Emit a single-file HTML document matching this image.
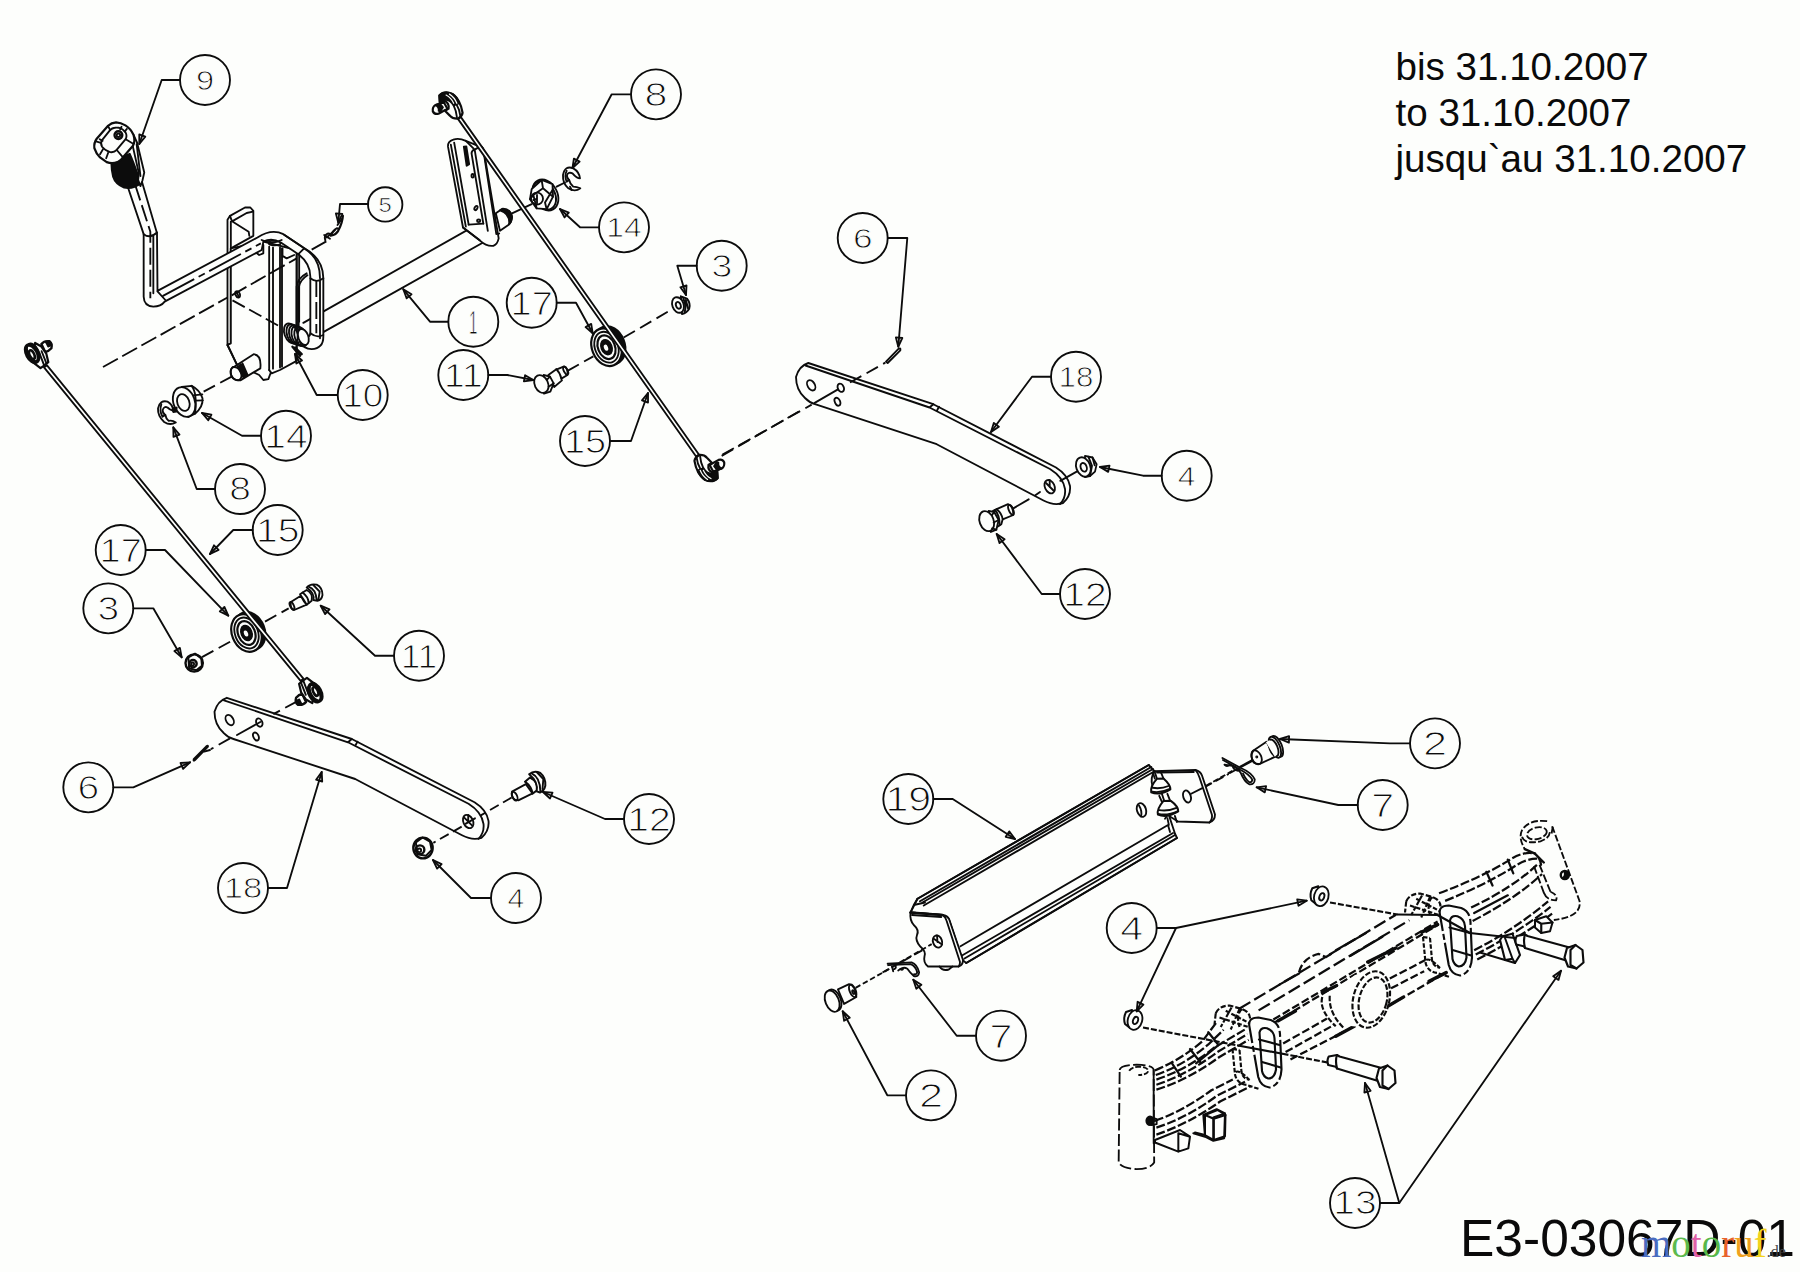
<!DOCTYPE html>
<html lang="de"><head><meta charset="utf-8"><title>E3-03067D-01</title>
<style>
html,body{margin:0;padding:0;background:#fdfefc;}
body{width:1800px;height:1272px;overflow:hidden;position:relative;font-family:"Liberation Sans",sans-serif;}
svg{position:absolute;left:0;top:0;display:block}
.ln *{vector-effect:non-scaling-stroke}
.ln{fill:none;stroke:#0c0c0c;stroke-width:1.85;stroke-linecap:round;stroke-linejoin:round}
.bn{opacity:.999;font-family:"Liberation Sans",sans-serif;text-anchor:middle;fill:#0c0c0c;stroke:#fdfefc;stroke-width:1.1px;paint-order:fill stroke;}
.f{fill:#0c0c0c}
.w{fill:#fdfefc}
.d{stroke-dasharray:14 5}
[style*="dasharray"]{stroke-linecap:butt}
.note{font-family:"Liberation Sans",sans-serif;font-size:38.6px;fill:#0a0a0a}
.code{font-family:"Liberation Sans",sans-serif;font-size:51.5px;fill:#0a0a0a}
.wm{font-family:"Liberation Serif",serif;font-size:39px}
</style></head><body>
<svg width="1800" height="1272" viewBox="0 0 1800 1272">
<rect width="1800" height="1272" fill="#fdfefc"/>
<g class="ln">
<!-- 00_defs.svg -->
<defs>
<!-- flat bar 18, in page coordinates of the upper instance -->
<g id="flatbar">
<path class="w" d="M808.3 363Q799 366 796 377Q796 390 805 398Q810 403 815 404.2L936.7 444.2L1043.5 500.5Q1054 506 1063 503Q1071 496 1070 486Q1068 475 1056 467.5L933.3 404.2Z"/>
<path d="M805.5 365.5L929.5 407.5L1050 469Q1063 477 1065 489Q1066 498 1060 504M929.5 407.5L933.3 404.2M937 410.5L939 406.8"/>
<ellipse cx="811.2" cy="385.3" rx="3.6" ry="5.6" transform="rotate(-30 811.2 385.3)"/>
<ellipse cx="840.8" cy="387.8" rx="3" ry="4.3" transform="rotate(-25 840.8 387.8)"/>
<ellipse cx="837.5" cy="401.7" rx="2.6" ry="4.2" transform="rotate(-25 837.5 401.7)"/>
<ellipse cx="1049.7" cy="486.7" rx="4.8" ry="7" transform="rotate(-25 1049.7 486.7)"/>
<path d="M1046 483L1053.5 490.5M1049.7 480L1049.7 487"/>
</g>
<!-- pulley 17 centred at 0,0 (page px) -->
<g id="pulley">
<ellipse cx="2.6" cy="-1.6" rx="14.6" ry="19.6" transform="rotate(-22 2.6 -1.6)" class="f"/>
<ellipse cx="-1" cy="0.5" rx="14.5" ry="19.5" transform="rotate(-22 -1 0.5)" class="w" style="stroke-width:2.2"/>
<ellipse cx="-1" cy="0.5" rx="11.5" ry="16" transform="rotate(-22 -1 0.5)"/>
<ellipse cx="-1" cy="0.5" rx="8.5" ry="12.3" transform="rotate(-22 -1 0.5)" style="stroke-width:2.2"/>
<ellipse cx="-1" cy="0.5" rx="5.2" ry="7.6" transform="rotate(-22 -1 0.5)" class="f"/>
<ellipse cx="-1.5" cy="1" rx="2" ry="3.2" transform="rotate(-22 -1.5 1)" class="w" style="stroke:none"/>
</g>
<!-- tie-rod end A (upper rod), drawn in F17 coords (425,80) k22.3, attach point (770,850) -->
<g id="reA">
<path class="w" d="M232 560L420 495L500 640L300 752Q215 775 175 700Q160 600 232 560Z" style="stroke-width:2.2"/>
<path class="f" d="M232 560L330 525L400 610L345 700L305 690Q320 600 232 560Z"/>
<path class="w" d="M320 345Q430 232 610 310Q790 440 838 730Q825 812 760 840L740 862Q620 872 560 800L450 690L525 640Q545 520 440 470Q380 460 330 500Z" style="stroke-width:2.2"/>
<path class="f" d="M320 345Q430 232 610 310Q720 380 760 520L700 540L640 570Q560 440 450 445Q380 450 330 500Z"/>
<path d="M640 570Q700 690 712 830M700 540Q775 660 790 810"/>
<path d="M470 335Q590 400 640 520M545 315Q660 390 710 520" style="stroke:#fdfefc;stroke-width:1.2"/>
</g>
<!-- tie-rod end B (left rod), drawn in F18 coords (10,325) k22.3, attach point (790,920) -->
<g id="reB">
<path class="w" d="M700 425Q760 350 880 362Q952 420 922 520Q860 592 785 602Z" style="stroke-width:2.4"/>
<path class="f" d="M790 370Q880 350 925 430Q900 470 850 480Q830 430 790 370Z"/>
<path class="w" d="M560 400L700 480L810 640L855 830L760 905L680 962L480 805Z" style="stroke-width:2.2"/>
<path d="M650 610L755 885M705 585L810 850"/>
<ellipse cx="490" cy="640" rx="118" ry="212" transform="rotate(-28 490 640)" class="w" style="stroke-width:3.4"/>
<ellipse cx="520" cy="610" rx="118" ry="212" transform="rotate(-28 520 610)" style="stroke-width:2"/>
<ellipse cx="488" cy="662" rx="52" ry="105" transform="rotate(-25 488 662)" style="stroke-width:2.6"/>
</g>
</defs>

<!-- 10_bracket.svg -->
<g transform="translate(130,200) scale(0.166667)">
<!-- long centre line through bracket to cotter pin 5 -->
<!-- back flange of channel -->
<path class="w" d="M585 118L600 95L690 45L722 45L740 65L740 215L605 290L605 860L585 870Z"/>
<path d="M605 130L605 860M600 95L612 128L712 190L716 215M612 128L700 78L738 70"/>
<!-- web / body -->
<path class="w" d="M605 290L800 250L1000 300L1000 965L900 1020L850 1040L835 1020L845 1035L830 1075L800 1080L775 1050L640 985L585 870L605 860Z"/>
<path d="M585 870L640 985"/>
<!-- long centre line -->
<path class="d" d="M-162 1002L585 585M610 572L1000 350M1090 298L1178 248" style="stroke-dasharray:17 5"/>
<!-- small hole + hidden line -->
<ellipse cx="646" cy="566" rx="13" ry="20" transform="rotate(-25 646 566)"/>
<path d="M640 555L652 578"/>
<path class="d" d="M615 602L905 762" style="stroke-dasharray:14 5"/>
<!-- pivot tube verticals -->
<path d="M835 280L835 1020M858 285L858 1012M900 285L900 1005M912 290L912 1000"/>
<ellipse cx="868" cy="258" rx="36" ry="14"/>
<!-- hooks at top -->
<path d="M750 310L775 330L800 320L800 270M915 335L940 350L985 330M915 290L915 340M1000 330L1000 965"/>
<!-- pin cylinder -->
<path class="w" d="M625 1000L742 925Q790 930 782 1010L662 1082Q600 1085 605 1025Q610 1000 625 1000Z"/>
<ellipse cx="636" cy="1042" rx="30" ry="42" transform="rotate(-28 636 1042)"/>
<path d="M655 990L690 1062M665 985L698 1056M675 980L706 1050M645 996L682 1068"/>
</g>

<!-- 12_rod.svg -->
<g transform="translate(130,200) scale(0.166667)">
<!-- shaft (part 1) running to upper right, drawn first so U-rod covers its start -->
<path class="w" d="M1042 736L1190 652L2190 86L2215 166L2215 201L1162 790Z" style="stroke:none"/>
<path d="M1040 737L2190 86M1165 790L2215 201"/>
<!-- handle rod: angled top, vertical, bottom bend, long horizontal, U bend -->
<path class="w" d="M-12 -75L82 205L82 580Q84 636 140 640Q185 640 208 610L790 300Q800 252 800 250Q850 225 905 255L1010 325Q1082 380 1082 460L1082 800Q1080 828 1040 825L1025 850Q1040 895 1090 895Q1160 890 1160 820L1160 470Q1160 350 1040 285L920 205Q850 170 765 225L165 545L162 200L70 -115Z"/>
<path d="M82 205Q120 235 162 195M140 215L140 560M165 548L212 600"/>
<path class="d" d="M30 -95L122 190L122 590" style="stroke-dasharray:17 5"/>
<path class="d" d="M195 577L785 260" style="stroke-dasharray:36 5 7 5"/>
<path d="M1082 470Q1120 500 1160 470M1140 480L1140 830M1082 800Q1120 830 1160 810" />
<path class="d" d="M1118 480L1118 800" style="stroke-dasharray:17 5"/>
<path d="M790 240Q850 270 910 240M925 208L1045 290Q1140 345 1140 470M1010 325L1045 290"/>
<!-- wire from spring -->
<path d="M1000 760L1000 520Q1005 470 1060 440M1012 760L1012 525Q1020 480 1065 452"/>
<path d="M1015 330L1015 730"/>
<!-- spring 10 -->
<g>
<ellipse cx="965" cy="800" rx="38" ry="62" transform="rotate(-20 965 800)" class="w"/>
<ellipse cx="980" cy="805" rx="38" ry="62" transform="rotate(-20 980 805)"/>
<ellipse cx="995" cy="810" rx="38" ry="62" transform="rotate(-20 995 810)"/>
<ellipse cx="1010" cy="815" rx="38" ry="62" transform="rotate(-20 1010 815)"/>
<ellipse cx="1025" cy="820" rx="36" ry="60" transform="rotate(-20 1025 820)"/>
<ellipse cx="1040" cy="822" rx="30" ry="50" transform="rotate(-20 1040 822)" class="w"/>
<path d="M975 880L1020 935M990 885L1030 925" style="stroke-width:2.4"/>
</g>
</g>

<!-- 14_knob.svg -->
<!-- knob 9, F20 frame: (80,100) k14.97 -->
<g transform="translate(80,100) scale(0.0668)">
<!-- black boot under knob -->
<path class="f" d="M470 950L650 845L745 805Q790 900 860 1100L905 1250Q800 1335 660 1312Q530 1262 495 1150Q470 1050 470 950Z"/>
<!-- flattened rod end -->
<path class="w" d="M790 690L800 520L855 640L962 1085L935 1205L905 1290L870 1195L882 1100Z"/>
<path d="M848 660L905 1140"/>
<!-- knob -->
<path class="w" d="M540 335Q470 340 420 385L250 580Q205 640 215 720Q240 800 300 860L400 930Q480 962 560 930Q620 900 650 850L790 690Q832 620 800 520Q760 430 680 380Q610 340 540 335Z" style="stroke-width:2.2"/>
<path d="M520 415Q480 420 450 450L330 600Q300 650 330 700Q380 762 450 780Q510 790 545 750L680 590Q712 540 680 480Q640 430 580 415Q550 410 520 415Z"/>
<path d="M240 620L312 642M300 812L345 735M392 872L422 790M640 855L560 760M790 652L690 592M702 432L668 472M622 400L602 440M418 388L452 448M295 588L338 612"/>
<circle cx="575" cy="525" r="58" style="stroke-width:2.4"/><circle cx="575" cy="528" r="26"/>
</g>

<!-- 16_arm.svg -->
<g transform="translate(400,80) scale(0.166667)">
<!-- shaft end stub behind plate -->
<path class="w" d="M575 800L610 775Q660 770 672 820Q672 850 650 870L600 905Z"/>
<path class="f" d="M600 782L618 772Q665 775 672 825Q670 850 655 865Q660 800 600 782Z"/>
<!-- arm plate -->
<path class="w" d="M288 400Q285 368 320 358Q352 345 395 365L480 400Q495 395 502 420L592 950Q585 985 560 995Q520 1000 478 962L378 885Z"/>
<path d="M305 388L395 880M325 376L412 868M430 445L500 862M448 418L527 905M502 432L578 925M395 365L445 415Q425 430 430 445M480 400L448 418"/>
<path class="f" d="M383 400L398 398L415 505L400 515Z"/>
<ellipse cx="436" cy="575" rx="7" ry="11"/><ellipse cx="456" cy="768" rx="8" ry="14" transform="rotate(30 456 768)"/><ellipse cx="472" cy="845" rx="10" ry="8"/>
<path d="M378 885L478 962M412 868L500 862"/>
<!-- axis line to nut -->
<path d="M672 800L790 745M940 640L990 615"/>
<!-- nut 14 -->
<g>
<ellipse cx="872" cy="690" rx="72" ry="98" transform="rotate(-28 872 690)" class="w"/>
<ellipse cx="866" cy="692" rx="64" ry="90" transform="rotate(-28 866 692)"/>
<path class="w" d="M790 655L850 600L915 625L918 700L880 775L820 770L780 715Z"/>
<path d="M850 600L858 650L918 700M858 650L800 690L820 770M800 690L780 715M880 775L870 735L915 660"/>
<circle cx="822" cy="712" r="36"/>
<path d="M800 720L815 715M822 690L822 740"/>
</g>
<!-- e-clip 8 -->
<path d="M1040 530Q990 510 978 570Q975 620 1010 650Q1050 675 1082 650Q1060 640 1040 640Q1020 625 1015 600Q1000 590 1002 570Q1010 550 1035 560Q1060 590 1080 590Q1075 550 1040 530Z"/>
<path d="M1000 545Q985 575 1000 610L1015 600M1020 640L1030 660"/>
</g>

<!-- 20_tierods.svg -->
<!-- pulleys -->
<g transform="translate(607.5,346.7)"><use href="#pulley"/></g>
<g transform="translate(247.5,632.5)"><use href="#pulley"/></g>
<!-- upper tie rod 15 -->
<path class="w" d="M458.1 119.1L696.1 456.5L698.9 454.5L460.9 117.1Z"/>
<!-- left tie rod 15 -->
<path class="w" d="M44.0 367.4L300.6 680.9L303.4 678.7L46.8 365.2Z"/>
<!-- rod ends -->
<g transform="translate(425,80) scale(0.044843)"><use href="#reA"/></g>
<g transform="translate(697.5,455.5) rotate(180) scale(0.044843) translate(-770,-850)"><use href="#reA"/></g>
<g transform="translate(10,325) scale(0.044843)"><use href="#reB"/></g>
<g transform="translate(302,679.8) rotate(180) scale(0.044843) translate(-790,-920)"><use href="#reB"/></g>
<!-- flat bars -->
<use href="#flatbar"/>
<use href="#flatbar" transform="translate(-581.5,334.8)"/>

<!-- 30_small_top.svg -->
<!-- F5 frame: (500,260) k6 : bolt 11, spacer 3, axes -->
<g transform="translate(500,260) scale(0.166667)">
<path class="d" d="M405 665L560 578M742 465L1025 300" style="stroke-dasharray:13 6"/>
<path class="d" d="M1330 1175L1800 905" style="stroke-dasharray:13 6"/>
<!-- bolt 11 -->
<path class="w" d="M290 690L338 655L345 655L385 638Q408 645 405 690L368 712L372 722L325 762Z"/>
<path d="M338 655Q362 680 368 712"/>
<ellipse cx="394" cy="664" rx="11" ry="26" transform="rotate(-28 394 664)"/>
<path class="w" d="M262 690L300 700L322 740L302 790L264 802Z"/>
<ellipse cx="248" cy="744" rx="40" ry="56" transform="rotate(-25 248 744)" class="w"/>
<path d="M300 700L285 715M322 740L292 760"/>
<!-- spacer 3 -->
<path class="w" d="M1085 218L1122 232Q1145 262 1135 292Q1120 318 1092 324Z" style="stroke-width:2"/>
<path d="M1100 232Q1120 270 1108 312M1115 240L1128 290" style="stroke-width:2"/>
<ellipse cx="1068" cy="270" rx="34" ry="48" transform="rotate(-20 1068 270)" class="w"/>
<ellipse cx="1070" cy="272" rx="14" ry="21" transform="rotate(-20 1070 272)"/>
</g>
<!-- F6 frame: (680,320) k6 : axis through flat bar, pin 6 -->
<g transform="translate(680,320) scale(0.166667)">
<path class="d" d="M255 808L790 508" style="stroke-dasharray:13 6"/>
<path d="M808 497L948 416"/>
<path class="d" d="M1020 375L1232 256" style="stroke-dasharray:13 6"/>
<path d="M1236 250L1312 172Q1325 165 1322 182L1246 258Z"/>
</g>
<!-- F7 frame: (940,400) k6 : nut 4, bolt 12 -->
<g transform="translate(940,400) scale(0.166667)">
<path d="M722 485L820 430M600 552L572 572M532 596L440 650"/>
<!-- nut 4 -->
<path class="w" d="M870 335L915 345L940 385L930 430L900 456L870 462Z" style="stroke-width:1.8"/>
<path d="M890 340L912 395L900 456M915 345L928 392" />
<ellipse cx="860" cy="402" rx="42" ry="60" transform="rotate(-20 860 402)" class="w"/>
<ellipse cx="862" cy="404" rx="18" ry="27" transform="rotate(-20 862 404)"/>
<!-- bolt 12 -->
<path class="w" d="M340 655L408 625Q440 635 440 690L376 716Z"/>
<ellipse cx="426" cy="659" rx="13" ry="32" transform="rotate(-22 426 659)"/>
<path class="w" d="M318 665L340 655Q372 680 376 716L368 745L345 760Z"/>
<path d="M330 660Q358 690 358 752"/>
<path class="w" d="M292 665L325 672L352 720L338 778L305 792Z"/>
<ellipse cx="280" cy="727" rx="42" ry="62" transform="rotate(-20 280 727)" class="w"/>
<path d="M325 672L312 690M352 720L322 735M338 778L312 770"/>
</g>
<!-- F3 frame: (280,180) k6 : cotter pin 5, shaft stub -->
<g transform="translate(280,180) scale(0.166667)">
<path d="M272 362Q262 335 285 322Q300 318 305 335Q318 300 340 290Q355 290 350 305Q338 330 305 335Q330 330 352 300Q375 255 378 215" style="stroke-width:2"/>
<path d="M265 330L300 352M280 345L330 300M345 270L372 232"/>
</g>

<!-- 32_small_left.svg -->
<!-- F8 frame: (0,320) k6 : nut 14, e-clip 8 -->
<g transform="translate(0,320) scale(0.166667)">
<path class="d" d="M1390 340L1222 430" style="stroke-dasharray:13 6"/>
<path d="M1132 478L1040 530"/>
<!-- nut/bushing 14 -->
<path class="w" d="M1090 402L1150 395Q1200 420 1215 470Q1220 520 1170 562L1130 582Z"/>
<path d="M1150 395Q1185 440 1170 562M1160 452L1214 446M1172 484L1217 482"/>
<ellipse cx="1105" cy="492" rx="64" ry="92" transform="rotate(-20 1105 492)" class="w"/>
<ellipse cx="1100" cy="495" rx="36" ry="52" transform="rotate(-20 1100 495)"/>
<path class="f" d="M1035 535L1060 525L1058 550L1040 552Z"/>
<!-- e-clip 8 -->
<path d="M1005 490Q960 478 948 530Q945 575 985 612Q1020 635 1055 615Q1035 600 1012 605Q995 590 992 570Q975 560 976 540Q985 515 1005 525Q1020 540 1040 545Q1035 505 1005 490Z"/>
<path d="M968 505Q955 545 975 580L992 570"/>
</g>
<!-- F9 frame: (140,560) k6 : nut 3, bolt 11, axes, pin 6 -->
<g transform="translate(140,560) scale(0.166667)">
<path class="d" d="M372 583L560 480M750 370L892 290" style="stroke-dasharray:13 6"/>
<path class="d" d="M940 850L800 925M540 1070L425 1135" style="stroke-dasharray:13 6"/>
<path d="M722 972L582 1050"/>
<!-- nut 3 -->
<ellipse cx="325" cy="618" rx="52" ry="52" class="w" style="stroke-width:2.4"/>
<path d="M290 585L330 562L368 590L372 635L338 662L295 650Z" style="stroke-width:2"/>
<circle cx="318" cy="622" r="22" style="stroke-width:2.4"/>
<circle cx="316" cy="624" r="9"/>
<!-- bolt 11 (head upper right) -->
<path class="w" d="M905 252L965 215L985 250L1000 268L925 300Q900 295 905 252Z"/>
<ellipse cx="912" cy="275" rx="11" ry="25" transform="rotate(-25 912 275)"/>
<path class="w" d="M960 205L1000 180Q1040 200 1030 245L1000 268Q985 240 960 205Z"/>
<path d="M975 195Q1010 220 1012 258"/>
<path class="w" d="M1000 165Q1020 140 1060 148Q1095 165 1095 210Q1090 240 1065 245L1040 240Q1050 200 1000 165Z"/>
<path d="M1012 160Q1055 175 1060 240M1040 150L1078 190L1070 240"/>
<!-- pin 6 -->
<path d="M408 1120L330 1200Q318 1210 322 1195L398 1118Q410 1108 408 1120Z"/>
<path d="M385 1150L420 1140"/>
</g>
<!-- F10 frame: (330,720) k6 : nut 4, bolt 12 -->
<g transform="translate(330,720) scale(0.166667)">
<path class="d" d="M1090 465L905 572" style="stroke-dasharray:10 5"/>
<path d="M870 590L815 622"/>
<path class="d" d="M790 640L620 737" style="stroke-dasharray:10 5"/>
<!-- nut 4 -->
<ellipse cx="558" cy="768" rx="58" ry="62" class="w" style="stroke-width:2.4"/>
<path d="M515 735L555 705L600 730L610 780L575 815L525 805Z" style="stroke-width:2"/>
<circle cx="540" cy="778" r="26" style="stroke-width:2.4"/>
<circle cx="536" cy="782" r="11"/>
<!-- bolt 12 -->
<path class="w" d="M1092 430L1175 385L1215 440L1130 482Q1085 480 1092 430Z"/>
<ellipse cx="1108" cy="457" rx="14" ry="28" transform="rotate(-25 1108 457)"/>
<path class="w" d="M1170 370L1200 345Q1250 370 1245 420L1215 442Q1210 400 1170 370Z" style="stroke-width:2"/>
<path class="w" d="M1195 325Q1225 300 1262 318Q1295 345 1292 395Q1285 425 1260 435L1240 428Q1250 370 1195 325Z" style="stroke-width:2"/>
<path d="M1210 320Q1262 345 1262 428M1240 312L1280 355L1275 415"/>
</g>

<!-- 40_frame.svg -->
<!-- beam rails, F19 frame: (1080,800) k3.2727 -->
<g transform="translate(1080,800) scale(0.305556)" style="stroke-width:2.25">
<g style="stroke-dasharray:9 2.6">
<!-- upper flange: left & right outer sections -->
<path d="M245 885Q330 850 400 790L445 730M1175 305Q1310 255 1400 200Q1450 165 1492 176"/>
<path d="M1195 330Q1320 280 1410 225Q1460 190 1498 192"/>
<path d="M250 915Q350 882 440 810L545 748M1280 352Q1420 285 1500 208"/>
<path d="M250 948Q355 915 455 842L552 785M1285 396Q1430 320 1512 242"/>
<path d="M248 900Q340 868 420 800L470 752M250 932Q352 898 448 826L548 766"/>
<!-- lower flange: left & right outer sections -->
<path d="M245 1050Q330 1022 430 950L500 915M1290 492Q1420 425 1532 332"/>
<path d="M250 1095Q350 1062 460 986L560 936M1300 522Q1440 450 1545 372"/>
<path d="M250 1072Q350 1040 448 968L540 922M1295 506Q1430 436 1540 350"/>
</g>
<!-- mid section (between links), long dashes -->
<g style="stroke-dasharray:13 4.5">
<path d="M521 683.4L1034 375.5"/>
<path d="M584.5 688.5L1078 393.5"/>
</g>
<g style="stroke-dasharray:8 3">
<path d="M632.7 718.6L1170.4 397.5M636 728.6L1173.6 407.5"/>
<path d="M664.8 796.9L813.3 712.6M1013.9 584.2L1130.3 524"/>
<path d="M672.8 825L837.3 732.7M1017.9 616.3L1126.3 560.1"/>
<path d="M688.8 849L897.5 740.7M1009.9 673.3L1198.5 564.9"/>
<path d="M716.9 564.1Q729 515.9 781.2 503.9L805.2 513.9"/>
</g>
<path d="M805.2 513.9L821.3 503.9M652.7 604.2L716.9 568.1M837.3 491.8L935.7 435.7M885.5 509.9L989.8 447.7"/>
<path d="M648.7 722.6L704.9 690.5M793.2 630.3L839.3 608.2M941.7 530L1034 484.6M1118.3 432.5L1170.4 407.6M837.3 772.8L897.5 740.7M1009.9 673.3L1058.1 645.2M1142.4 593L1198.5 564.9" style="stroke-width:3.4"/>
<path d="M380 862L450 805M1290 370L1400 312"/>
<path d="M300 860L330 905M360 815L395 860M420 760L452 800M1330 235L1350 280M1400 195L1418 240"/>
</g>
<!-- axle frame (phantom), F13 frame: (1180,840) k4 -->
<g transform="translate(1180,840) scale(0.25)" style="stroke-width:2.15">
<defs>
<g id="link">
<path class="w" d="M1040 300Q1032 262 1075 262L1125 272Q1160 285 1162 330L1168 470Q1165 532 1120 542Q1085 538 1075 500Z" style="stroke-dasharray:40 3 6 3"/>
<path d="M1080 322Q1085 300 1110 305Q1138 315 1140 345L1146 470Q1140 506 1115 506Q1095 500 1090 476Z"/>
<path d="M905 245Q920 214 960 214L1010 228Q1042 240 1042 266M905 245L900 290M1010 228Q985 250 1000 300" style="stroke-dasharray:5.5 2"/>
<path d="M972 388L982 490Q990 528 1030 532L1078 548M1000 392L1008 480Q1012 505 1040 512M972 388L1000 392M985 480Q1000 470 1040 512" style="stroke-dasharray:4.5 1.8"/>
<path d="M920 262L1035 300M945 235L1040 285M968 222L925 300M1000 228L965 310" style="stroke-dasharray:4.5 1.8"/>
<path d="M1078 350L1160 372M1090 440L1165 462"/>
</g>
</defs>
<!-- beam rails are drawn in F19 frame below -->
<!-- centre boss -->
<g style="stroke-dasharray:5.5 2">

<path class="w" d="M600 610Q565 640 580 700Q600 750 650 740L735 750L790 520L700 540Z" style="stroke:none"/>
<path d="M569 628Q555 681 623 745M599 623Q594 691 653 750"/>
<ellipse cx="765" cy="638" rx="72" ry="115" transform="rotate(14 765 638)" class="w"/>
<ellipse cx="772" cy="640" rx="55" ry="92" transform="rotate(14 772 640)"/>
</g>

<use href="#link"/>
<use href="#link" transform="translate(-762,448)"/>
<!-- feet -->
<path class="w" d="M1290 385L1330 375L1360 460L1340 492L1300 480L1280 400Z"/>
<path d="M1300 392L1330 475L1340 492M1330 475L1300 480M1200 450L1300 480" style="stroke-width:2"/>
<path class="w" d="M1420 320L1465 305L1490 330L1480 365L1445 372L1420 350Z" style="stroke-width:2"/>
<path d="M1445 335L1445 372M1445 335L1490 330M1420 320L1445 335"/>
<path class="w" d="M100 1100L150 1080L182 1100L180 1185L135 1200L100 1180Z" style="stroke-width:2"/>
<path d="M135 1115L135 1200M135 1115L182 1100M100 1100L135 1115M60 1170L100 1180"/>

<!-- bolts 13 -->
<g id="bolt13">
<path class="w" d="M1347 384L1380 378L1390 384L1558 430L1545 482L1380 432L1375 425L1345 418Q1338 400 1347 384Z"/>
<path d="M1380 378Q1372 400 1380 432"/>
<path class="w" d="M1548 432L1582 420L1610 440L1614 490L1586 514L1552 506L1538 470Z"/>
<path d="M1582 420L1562 440L1562 500L1586 514"/>
</g>
<use href="#bolt13" transform="translate(-752,482)"/>
<!-- axis lines from nuts / bolts -->
<path d="M600 250L870 298" style="stroke-dasharray:6 2"/>
<path d="M870 298L1030 300L1160 372M1160 372L1340 392"/>
<path d="M-148 750L232 822" style="stroke-dasharray:6 2"/><path d="M232 822L410 855"/><path d="M410 855L590 890" style="stroke-dasharray:6 2"/>
</g>
<!-- left spindle tube & extras, F12 frame: (1100,960) k6 -->
<g transform="translate(1100,960) scale(0.166667)">
<path class="w" d="M118 660Q120 630 220 628Q320 632 322 660L325 1215Q300 1255 220 1255Q130 1250 112 1215Z" style="stroke-dasharray:12 3.5"/>
<path d="M175 665Q190 640 240 640Q290 645 290 668Q280 690 230 690" style="stroke-dasharray:5.5 2"/>
<path d="M322 660L322 1100" />
<ellipse cx="300" cy="965" rx="22" ry="26" class="f"/>
<path d="M310 945L340 955L340 985L310 990"/>

<path d="M330 1080L480 1020L540 1060L530 1130L470 1150L330 1095ZM470 1040L470 1150M470 1040L540 1060M620 930L700 895L750 920L745 1070L680 1085L630 1060ZM680 945L680 1085M680 945L750 920M560 1040L630 1060" style="stroke-width:2"/>
</g>

<!-- right spindle tube, F16 frame: (1440,800) k8.96 -->
<g transform="translate(1440,800) scale(0.111607)">
<g style="stroke-dasharray:7 2.2">
<path d="M960 190Q800 170 735 270Q700 340 760 440"/>
<path d="M735 330Q760 400 900 370Q990 340 985 270"/>
<ellipse cx="868" cy="298" rx="90" ry="52" transform="rotate(-14 868 298)"/>
<path d="M1005 235L1250 905Q1275 1045 1020 1075"/>
<path d="M1000 300L1010 240"/>
</g>
<path d="M842 592L930 830M892 582L990 822M930 830Q955 898 1040 900Q1060 850 990 822" style="stroke-dasharray:8 2.5"/>
<circle cx="1118" cy="672" r="36" style="stroke-width:2.4"/>
<path class="f" d="M1118 640Q1160 650 1150 690Q1130 712 1105 700Q1125 670 1118 640Z"/>
<path d="M760 440L850 480L930 560M850 480Q900 520 905 580" style="stroke-width:2.4"/>
</g>

<!-- 42_nuts4.svg -->
<g id="nut4s">
<g transform="translate(1321.3,896.3)">
<path class="w" d="M-3 -10L-9 -8Q-12 -2 -10 4L-5 8Z" style="stroke-width:2"/>
<ellipse cx="0" cy="0" rx="7.2" ry="10" transform="rotate(15)" class="w"/>
<ellipse cx="0.5" cy="0.5" rx="2.4" ry="3.8" transform="rotate(20 0.5 0.5)"/>
</g>
<g transform="translate(1135,1020)">
<path class="w" d="M-3 -10L-9 -8Q-12 -2 -10 4L-5 8Z" style="stroke-width:2"/>
<ellipse cx="0" cy="0" rx="7.2" ry="10" transform="rotate(15)" class="w"/>
<ellipse cx="0.5" cy="0.5" rx="2.4" ry="3.8" transform="rotate(20 0.5 0.5)"/>
</g>
</g>

<!-- 50_part19.svg -->
<!-- part 19 angle bar, F11 frame: (880,740) k4 -->
<g transform="translate(880,740) scale(0.25)">
<!-- axis lines -->
<path class="d" d="M1250 214L1395 136" style="stroke-dasharray:9 4"/>
<path d="M1400 132L1500 78"/>
<path class="d" d="M214 816L10 930" style="stroke-dasharray:9 4"/>
<!-- far end plate -->
<path class="w" d="M1095 125L1262 120Q1282 125 1288 142L1340 298Q1340 322 1318 330L1192 326L1150 300Z"/>
<path d="M1262 120Q1272 132 1278 150L1328 300Q1330 318 1318 330M1108 130L1255 128"/>
<ellipse cx="1228" cy="226" rx="15" ry="25" transform="rotate(-18 1228 226)"/>
<!-- main web -->
<path class="w" d="M150 635L1075 100L1098 125L1180 375L1188 392L345 892L330 880L275 715L250 700L122 690Z"/>
<!-- top flange lines -->
<path d="M150 635L1075 100M1085 108L160 645" style="stroke-width:2"/>
<path d="M175 662L1098 125M170 650L1092 116"/>
<!-- bottom flange lines -->
<path d="M322 825L1152 340L1160 368"/>
<path d="M328 862L1172 372M338 874L1180 380" />
<path d="M345 892L1188 392" style="stroke-width:2"/>

<!-- far end: rivets & hole -->
<path d="M1098 125Q1080 150 1090 185M1150 300L1140 315"/>
<ellipse cx="1046" cy="280" rx="18" ry="28" transform="rotate(-18 1046 280)"/>
<path d="M1036 262Q1050 285 1044 306"/>
<!-- near end plate -->
<path class="w" d="M122 690L250 700Q270 702 277 718L332 880Q332 900 315 906L192 906Q172 890 178 865Q185 845 160 825Q140 800 148 780Q158 760 135 740Q118 720 122 690Z"/>
<path d="M250 700Q262 708 266 722L320 888Q320 900 315 906M122 690L135 660L150 635M135 660L180 650M128 700L245 708" />
<path d="M122 690L250 700" style="stroke-width:2.4"/>
<ellipse cx="230" cy="806" rx="18" ry="25" transform="rotate(-18 230 806)"/>
<path d="M215 795L248 818M228 782L230 808"/>
<path d="M238 906Q250 925 275 918L290 906"/>
</g>

<!-- rivets on far end of 19, F23 frame: (1130,740) k8.96 -->
<g transform="translate(1130,740) scale(0.111607)">
<path d="M205 292L222 345M278 292L300 345M262 500L285 552M335 482L360 545M335 700L348 760M402 680L420 735"/>
<path class="w" d="M240 348Q178 420 190 468Q262 502 362 442Q362 400 300 345Z" style="stroke-width:2"/>
<path d="M203 428Q272 442 352 410M195 462Q270 478 358 438"/>
<path class="w" d="M300 546Q238 620 250 668Q330 702 432 640Q432 592 366 545Z" style="stroke-width:2"/>
<path d="M262 628Q338 642 424 606M255 662Q335 680 430 636"/>
</g>

<!-- 52_pins.svg -->
<!-- pin 2 + clip 7 lower-left, F14 frame: (800,920) k8.96 -->
<g transform="translate(800,920) scale(0.111607)">
<path class="d" d="M498 608L832 420M892 382L1180 216" style="stroke-dasharray:5.5 2.8"/>
<!-- pin 2 -->
<path class="w" d="M340 622L440 575Q500 590 505 690L395 752Z"/>
<ellipse cx="472" cy="634" rx="27" ry="60" transform="rotate(-22 472 634)"/>
<ellipse cx="478" cy="646" rx="9" ry="18" transform="rotate(-22 478 646)"/>
<ellipse cx="305" cy="718" rx="60" ry="100" transform="rotate(-22 305 718)" class="w"/>
<ellipse cx="288" cy="727" rx="60" ry="100" transform="rotate(-22 288 727)" class="w"/>
<!-- clip 7 -->
<path d="M785 392L1000 380Q1050 398 1068 470Q1062 512 1020 502Q985 470 962 436Q930 418 898 440L880 452" style="stroke-width:1.8"/>
<path d="M790 405L990 395Q1035 410 1050 468Q1045 492 1022 486M820 400L835 460M850 398Q870 430 845 440M900 440Q915 455 925 435"/>
</g>
<!-- pin 2 + clip 7 upper-right, F15 frame: (1180,710) k8.96 -->
<g transform="translate(1180,710) scale(0.111607)">
<path d="M655 445L540 506M200 700L100 750"/>
<path class="d" d="M470 545L230 682" style="stroke-dasharray:5.5 2.8"/>
<!-- pin 2 -->
<path class="w" d="M775 285L655 365Q625 420 660 470Q690 490 720 480L850 420Z"/>
<ellipse cx="686" cy="424" rx="42" ry="66" transform="rotate(-25 686 424)"/>
<circle cx="688" cy="422" r="5" class="f"/>
<ellipse cx="868" cy="326" rx="45" ry="100" transform="rotate(-22 868 326)" class="w"/>
<ellipse cx="850" cy="334" rx="45" ry="100" transform="rotate(-22 850 334)" class="w"/>
<ellipse cx="838" cy="340" rx="36" ry="80" transform="rotate(-22 838 340)" class="w"/>
<path class="w" d="M770 290L800 270Q850 300 860 410L850 420Z" style="stroke:none"/>
<!-- clip 7 -->
<path d="M380 430L545 520Q640 560 670 622Q668 672 620 666Q575 640 545 565Q520 520 470 500L400 490" style="stroke-width:1.8"/>
<path d="M385 448L540 535Q620 575 648 625Q645 650 622 648Q590 625 565 570M400 490Q415 510 440 495M470 500Q480 540 520 545"/>
</g>

</g>
<g class="ln" id="balloons">
<circle cx="205.0" cy="80.0" r="25.0"/>
<path d="M180.0 80.0L161.7 80.0L139.3 144.0"/>
<path d="M139.3 144.0L139.3 134.4L145.3 136.6Z"/>
<text class="bn" x="205.0" y="89.9" font-size="27.6" textLength="18.1" lengthAdjust="spacingAndGlyphs" style="stroke-width:0.91px">9</text>
<circle cx="385.2" cy="204.4" r="17.2"/>
<path d="M368.3 204.0L340.0 204.0L338.3 222.7"/>
<path d="M338.3 222.7L335.9 213.4L342.3 214.0Z"/>
<text class="bn" x="385.2" y="212.0" font-size="20.0" textLength="13.3" lengthAdjust="spacingAndGlyphs" style="stroke-width:0.66px">5</text>
<circle cx="473.3" cy="321.7" r="25.0"/>
<path d="M448.3 321.7L430.0 321.7L403.3 289.3"/>
<path d="M403.3 289.3L411.5 294.2L406.6 298.3Z"/>
<text class="bn" x="473.3" y="333.6" font-size="34.1" textLength="8.4" lengthAdjust="spacingAndGlyphs" style="stroke-width:1.05px">1</text>
<circle cx="531.7" cy="302.7" r="25.0"/>
<path d="M556.7 302.7L576.0 302.7L592.7 333.3"/>
<path d="M592.7 333.3L585.6 327.0L591.2 323.9Z"/>
<text class="bn" x="531.7" y="314.6" font-size="34.1" textLength="42.2" lengthAdjust="spacingAndGlyphs" style="stroke-width:1.05px">17</text>
<circle cx="463.3" cy="375.0" r="25.0"/>
<path d="M488.3 375.0L507.3 375.0L533.3 380.0"/>
<path d="M533.3 380.0L523.9 381.4L525.1 375.2Z"/>
<text class="bn" x="463.3" y="386.9" font-size="34.1" textLength="38.6" lengthAdjust="spacingAndGlyphs" style="stroke-width:1.05px">11</text>
<circle cx="362.7" cy="395.0" r="25.0"/>
<path d="M337.3 395.0L316.7 395.0L295.0 354.0"/>
<path d="M295.0 354.0L302.0 360.5L296.4 363.5Z"/>
<text class="bn" x="362.7" y="406.9" font-size="34.1" textLength="41.0" lengthAdjust="spacingAndGlyphs" style="stroke-width:1.05px">10</text>
<circle cx="656.0" cy="94.3" r="25.0"/>
<path d="M631.0 94.3L611.7 94.3L572.5 168.0"/>
<path d="M572.5 168.0L573.9 158.6L579.6 161.6Z"/>
<text class="bn" x="656.0" y="106.0" font-size="33.3" textLength="22.9" lengthAdjust="spacingAndGlyphs" style="stroke-width:1.05px">8</text>
<circle cx="624.0" cy="227.3" r="25.0"/>
<path d="M599.0 227.3L580.0 227.3L560.0 209.0"/>
<path d="M560.0 209.0L568.8 212.7L564.5 217.4Z"/>
<text class="bn" x="624.0" y="237.0" font-size="26.8" textLength="35.5" lengthAdjust="spacingAndGlyphs" style="stroke-width:0.89px">14</text>
<circle cx="721.7" cy="265.7" r="25.0"/>
<path d="M696.7 265.7L677.3 265.7L686.0 295.0"/>
<path d="M686.0 295.0L680.4 287.3L686.5 285.5Z"/>
<text class="bn" x="721.7" y="276.8" font-size="31.7" textLength="21.1" lengthAdjust="spacingAndGlyphs" style="stroke-width:1.05px">3</text>
<circle cx="862.7" cy="238.0" r="25.0"/>
<path d="M887.7 238.0L907.3 238.0L898.3 346.7"/>
<path d="M898.3 346.7L895.9 337.4L902.3 338.0Z"/>
<text class="bn" x="862.7" y="247.9" font-size="27.6" textLength="19.6" lengthAdjust="spacingAndGlyphs" style="stroke-width:0.91px">6</text>
<circle cx="1076.0" cy="376.7" r="25.0"/>
<path d="M1051.0 376.7L1032.0 376.7L991.0 432.0"/>
<path d="M991.0 432.0L993.8 422.9L998.9 426.7Z"/>
<text class="bn" x="1076.0" y="387.1" font-size="29.3" textLength="34.9" lengthAdjust="spacingAndGlyphs" style="stroke-width:0.97px">18</text>
<circle cx="585.0" cy="441.0" r="25.0"/>
<path d="M610.0 441.0L631.0 441.0L648.0 393.0"/>
<path d="M648.0 393.0L648.0 402.6L642.0 400.4Z"/>
<text class="bn" x="585.0" y="452.9" font-size="34.1" textLength="42.2" lengthAdjust="spacingAndGlyphs" style="stroke-width:1.05px">15</text>
<circle cx="286.0" cy="435.7" r="25.0"/>
<path d="M261.0 435.7L242.0 435.7L202.0 413.0"/>
<path d="M202.0 413.0L211.4 414.7L208.2 420.2Z"/>
<text class="bn" x="286.0" y="447.6" font-size="34.1" textLength="43.4" lengthAdjust="spacingAndGlyphs" style="stroke-width:1.05px">14</text>
<circle cx="240.0" cy="489.0" r="25.0"/>
<path d="M215.0 489.0L196.7 489.0L173.3 427.3"/>
<path d="M173.3 427.3L179.5 434.6L173.5 436.9Z"/>
<text class="bn" x="240.0" y="500.4" font-size="32.5" textLength="21.7" lengthAdjust="spacingAndGlyphs" style="stroke-width:1.05px">8</text>
<circle cx="277.7" cy="530.0" r="25.0"/>
<path d="M252.7 530.0L233.3 530.0L210.0 554.0"/>
<path d="M210.0 554.0L214.0 545.3L218.6 549.8Z"/>
<text class="bn" x="277.7" y="541.9" font-size="34.1" textLength="43.4" lengthAdjust="spacingAndGlyphs" style="stroke-width:1.05px">15</text>
<circle cx="120.7" cy="550.0" r="25.0"/>
<path d="M145.7 550.0L165.0 550.0L228.3 615.7"/>
<path d="M228.3 615.7L219.8 611.4L224.4 607.0Z"/>
<text class="bn" x="120.7" y="561.9" font-size="34.1" textLength="42.2" lengthAdjust="spacingAndGlyphs" style="stroke-width:1.05px">17</text>
<circle cx="108.3" cy="608.3" r="25.0"/>
<path d="M133.3 608.3L153.3 608.3L181.7 657.3"/>
<path d="M181.7 657.3L174.4 651.1L179.9 647.9Z"/>
<text class="bn" x="108.3" y="619.7" font-size="32.5" textLength="21.7" lengthAdjust="spacingAndGlyphs" style="stroke-width:1.05px">3</text>
<circle cx="419.0" cy="655.7" r="25.0"/>
<path d="M394.0 655.7L375.0 655.7L320.7 605.7"/>
<path d="M320.7 605.7L329.5 609.4L325.1 614.1Z"/>
<text class="bn" x="419.0" y="667.6" font-size="34.1" textLength="36.1" lengthAdjust="spacingAndGlyphs" style="stroke-width:1.05px">11</text>
<circle cx="88.3" cy="787.3" r="25.0"/>
<path d="M113.3 787.3L133.3 787.3L190.0 762.3"/>
<path d="M190.0 762.3L183.1 768.9L180.5 763.0Z"/>
<text class="bn" x="88.3" y="798.7" font-size="32.5" textLength="21.7" lengthAdjust="spacingAndGlyphs" style="stroke-width:1.05px">6</text>
<circle cx="243.0" cy="888.0" r="25.0"/>
<path d="M268.0 888.0L287.0 888.0L321.7 772.0"/>
<path d="M321.7 772.0L322.2 781.5L316.1 779.7Z"/>
<text class="bn" x="243.0" y="898.4" font-size="29.3" textLength="38.6" lengthAdjust="spacingAndGlyphs" style="stroke-width:0.97px">18</text>
<circle cx="649.0" cy="819.0" r="25.0"/>
<path d="M624.0 819.0L605.0 819.0L543.0 792.0"/>
<path d="M543.0 792.0L552.5 792.7L550.0 798.5Z"/>
<text class="bn" x="649.0" y="830.9" font-size="34.1" textLength="43.4" lengthAdjust="spacingAndGlyphs" style="stroke-width:1.05px">12</text>
<circle cx="516.0" cy="898.0" r="25.0"/>
<path d="M491.0 898.0L471.0 898.0L433.0 860.0"/>
<path d="M433.0 860.0L441.6 864.1L437.1 868.6Z"/>
<text class="bn" x="516.0" y="907.9" font-size="27.6" textLength="16.9" lengthAdjust="spacingAndGlyphs" style="stroke-width:0.91px">4</text>
<circle cx="1186.7" cy="475.7" r="25.0"/>
<path d="M1161.7 475.7L1143.0 475.7L1100.0 467.0"/>
<path d="M1100.0 467.0L1109.5 465.6L1108.2 471.9Z"/>
<text class="bn" x="1186.7" y="485.6" font-size="27.6" textLength="17.8" lengthAdjust="spacingAndGlyphs" style="stroke-width:0.91px">4</text>
<circle cx="1085.0" cy="594.0" r="25.0"/>
<path d="M1060.0 594.0L1041.7 594.0L996.7 534.0"/>
<path d="M996.7 534.0L1004.6 539.3L999.5 543.1Z"/>
<text class="bn" x="1085.0" y="605.9" font-size="34.1" textLength="43.4" lengthAdjust="spacingAndGlyphs" style="stroke-width:1.05px">12</text>
<circle cx="908.3" cy="799.0" r="25.0"/>
<path d="M933.3 799.0L952.7 799.0L1015.0 839.0"/>
<path d="M1015.0 839.0L1005.7 836.8L1009.2 831.4Z"/>
<text class="bn" x="908.3" y="811.4" font-size="35.8" textLength="45.8" lengthAdjust="spacingAndGlyphs" style="stroke-width:1.05px">19</text>
<circle cx="1435.0" cy="743.3" r="25.0"/>
<path d="M1410.0 743.3L1390.0 743.3L1280.0 739.0"/>
<path d="M1280.0 739.0L1289.1 736.2L1288.9 742.6Z"/>
<text class="bn" x="1435.0" y="754.7" font-size="32.5" textLength="24.1" lengthAdjust="spacingAndGlyphs" style="stroke-width:1.05px">2</text>
<circle cx="1382.7" cy="805.0" r="25.0"/>
<path d="M1357.7 805.0L1338.3 805.0L1256.7 787.3"/>
<path d="M1256.7 787.3L1266.1 786.1L1264.8 792.4Z"/>
<text class="bn" x="1382.7" y="816.9" font-size="34.1" textLength="22.9" lengthAdjust="spacingAndGlyphs" style="stroke-width:1.05px">7</text>
<circle cx="1131.7" cy="928.0" r="25.0"/>
<path d="M1156.7 928.0L1176.0 928.0L1136.7 1011.3"/>
<path d="M1136.7 1011.3L1137.6 1001.8L1143.4 1004.6Z"/>
<path d="M1176.0 928.0L1306.7 900.7"/>
<path d="M1306.7 900.7L1298.5 905.7L1297.2 899.4Z"/>
<text class="bn" x="1131.7" y="939.9" font-size="34.1" textLength="22.9" lengthAdjust="spacingAndGlyphs" style="stroke-width:1.05px">4</text>
<circle cx="1001.0" cy="1035.7" r="25.0"/>
<path d="M976.0 1035.7L956.7 1035.7L913.3 979.7"/>
<path d="M913.3 979.7L921.4 984.8L916.3 988.7Z"/>
<text class="bn" x="1001.0" y="1047.6" font-size="34.1" textLength="22.9" lengthAdjust="spacingAndGlyphs" style="stroke-width:1.05px">7</text>
<circle cx="931.0" cy="1095.3" r="25.0"/>
<path d="M906.0 1095.3L887.3 1095.3L842.7 1011.3"/>
<path d="M842.7 1011.3L849.7 1017.8L844.1 1020.8Z"/>
<text class="bn" x="931.0" y="1106.7" font-size="32.5" textLength="24.1" lengthAdjust="spacingAndGlyphs" style="stroke-width:1.05px">2</text>
<circle cx="1355.0" cy="1203.0" r="25.0"/>
<path d="M1380.0 1203.0L1399.3 1203.0L1365.0 1083.0"/>
<path d="M1365.0 1083.0L1370.6 1090.8L1364.4 1092.5Z"/>
<path d="M1399.3 1203.0L1561.0 970.7"/>
<path d="M1561.0 970.7L1558.5 979.9L1553.2 976.2Z"/>
<text class="bn" x="1355.0" y="1214.4" font-size="32.5" textLength="43.4" lengthAdjust="spacingAndGlyphs" style="stroke-width:1.05px">13</text>
</g>
<text class="note" x="1395.5" y="80">bis 31.10.2007</text>
<text class="note" x="1395.5" y="126">to 31.10.2007</text>
<text class="note" x="1395.5" y="171.5">jusqu`au 31.10.2007</text>
<text class="code" x="1460" y="1256">E3-03067D-01</text>
<text class="wm" x="1641" y="1257"><tspan fill="#4a6cc0">m</tspan><tspan fill="#5cba4e">o</tspan><tspan fill="#e062a8">t</tspan><tspan fill="#57b84a">o</tspan><tspan fill="#e8622c">r</tspan><tspan fill="#f0a11e">u</tspan><tspan fill="#f2d21c">f</tspan><tspan fill="#444" font-size="16">.de</tspan></text>
</svg>
</body></html>
